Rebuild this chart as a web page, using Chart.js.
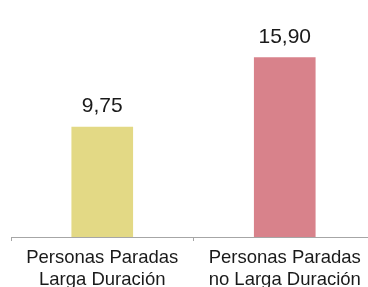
<!DOCTYPE html>
<html>
<head>
<meta charset="utf-8">
<script src="https://cdn.jsdelivr.net/npm/chart.js@4/dist/chart.umd.min.js"></script>
<style>
  html, body { margin: 0; padding: 0; background: #fff; overflow: hidden; width: 368px; height: 287px; }
  #wrap { position: absolute; left: 0; top: 0; width: 376px; height: 299px; }
</style>
</head>
<body>
<div id="wrap"><canvas id="c" width="376" height="299"></canvas></div>
<script>
const categories = [["Personas Paradas", "Larga Duración"], ["Personas Paradas", "no Larga Duración"]];
const values = [9.75, 15.90];
const barColors = ["#E3D985", "#D8828B"];

const valueLabelPlugin = {
  id: 'valueLabels',
  afterDatasetsDraw(chart) {
    const ctx = chart.ctx;
    const meta = chart.getDatasetMeta(0);
    ctx.save();
    ctx.font = '21px "Liberation Sans", Arial, sans-serif';
    ctx.fillStyle = '#1a1a1a';
    ctx.textAlign = 'center';
    ctx.textBaseline = 'alphabetic';
    meta.data.forEach((bar, i) => {
      const txt = values[i].toFixed(2).replace('.', ',');
      ctx.fillText(txt, bar.x, bar.y - 15);
    });
    ctx.restore();
  }
};

new Chart(document.getElementById('c'), {
  type: 'bar',
  data: {
    labels: categories,
    datasets: [{
      data: values,
      backgroundColor: barColors,
      borderWidth: 0,
      barThickness: 61
    }]
  },
  options: {
    responsive: false,
    animation: false,
    devicePixelRatio: 1,
    layout: { padding: { left: 11, right: 0, top: 0, bottom: 0 } },
    plugins: { legend: { display: false }, tooltip: { enabled: false } },
    scales: {
      y: { display: false, min: 0, max: 21 },
      x: {
        offset: true,
        afterFit(scale) { scale.height = 62; },
        grid: { display: true, drawOnChartArea: false, drawTicks: true, tickLength: 4, color: '#A6A6A6', offset: true },
        border: { display: true, color: '#A6A6A6', width: 1 },
        ticks: {
          color: '#1a1a1a',
          font: { family: '"Liberation Sans", Arial, sans-serif', size: 18.5, lineHeight: 1.17 },
          padding: 6,
          maxRotation: 0,
          minRotation: 0,
          autoSkip: false
        }
      }
    }
  },
  plugins: [valueLabelPlugin]
});
</script>
</body>
</html>
